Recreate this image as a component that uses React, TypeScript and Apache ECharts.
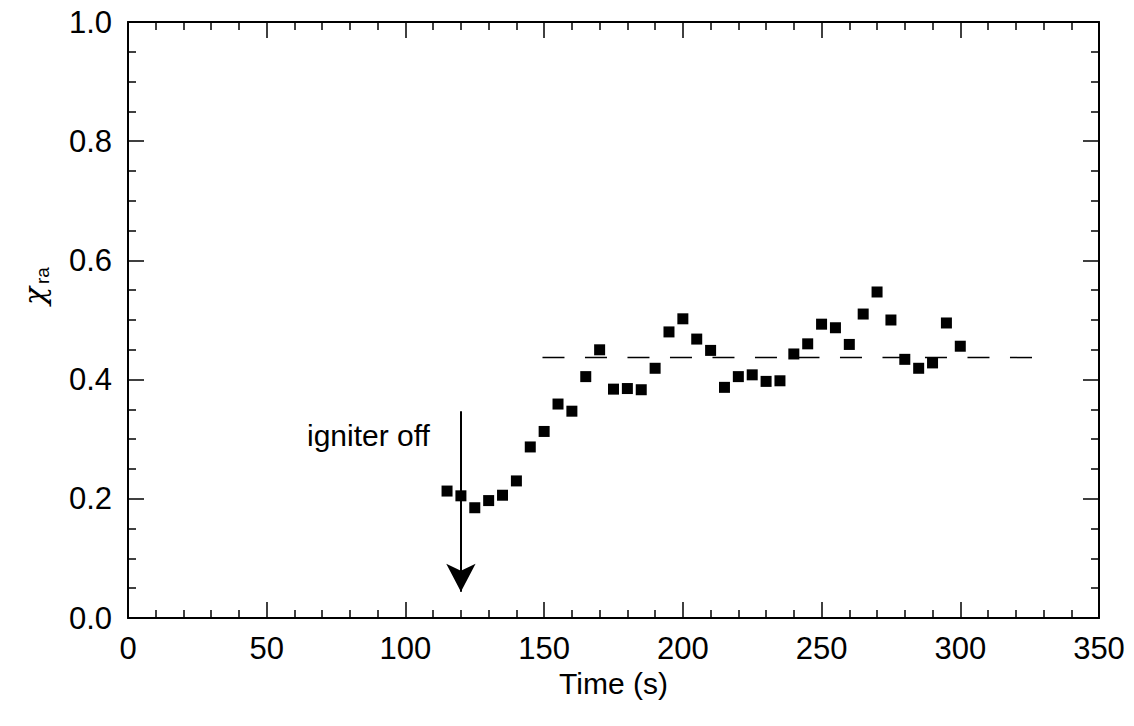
import React, { useEffect, useRef } from "react";
import * as echarts from "echarts";

const times = [115, 120, 125, 130, 135, 140, 145, 150, 155, 160, 165, 170, 175, 180, 185, 190, 195, 200, 205, 210, 215, 220, 225, 230, 235, 240, 245, 250, 255, 260, 265, 270, 275, 280, 285, 290, 295, 300];
const chiRa = [0.213, 0.205, 0.185, 0.197, 0.206, 0.23, 0.287, 0.313, 0.359, 0.347, 0.405, 0.45, 0.384, 0.385, 0.383, 0.419, 0.48, 0.502, 0.468, 0.449, 0.387, 0.405, 0.408, 0.397, 0.398, 0.443, 0.46, 0.493, 0.487, 0.459, 0.51, 0.547, 0.5, 0.434, 0.419, 0.428, 0.495, 0.456];

const meanLineTimes = [149.4, 326.4];
const meanLineValue = [0.437, 0.437];

const arrowTime = 120;
const arrowFrom = 0.347;
const arrowTo = 0.044;

const xTicks = { min: 0, max: 350, interval: 50 };
const yTicks = { min: 0, max: 1, interval: 0.2 };

const FONT = "'Liberation Sans', Arial, Helvetica, sans-serif";

export default function App() {
  const ref = useRef<HTMLDivElement>(null);
  useEffect(() => {
    if (!ref.current) return;
    const chart = echarts.init(ref.current, null, { renderer: "svg" });
    const axisCommon = {
      axisLine: { show: true, onZero: false, lineStyle: { color: "#000", width: 2 } },
      axisTick: { show: true, inside: true, length: 16, lineStyle: { color: "#000", width: 1.5 } },
      minorTick: { show: true, length: 8, lineStyle: { color: "#000", width: 1.5 } },
      splitLine: { show: false },
    };
    chart.setOption({
      animation: false,
      backgroundColor: "#fff",
      textStyle: { fontFamily: FONT },
      grid: { left: 128, right: 35, top: 22, bottom: 108, containLabel: false },
      xAxis: [
        {
          type: "value",
          position: "bottom",
          ...xTicks,
          ...axisCommon,
          minorTick: { ...axisCommon.minorTick, splitNumber: 5 },
          axisLabel: { color: "#000", fontSize: 31, fontFamily: FONT, margin: 15 },
          name: "Time (s)",
          nameLocation: "middle",
          nameGap: 47,
          nameTextStyle: { color: "#000", fontSize: 30, fontFamily: FONT },
        },
        {
          type: "value",
          position: "top",
          ...xTicks,
          ...axisCommon,
          minorTick: { ...axisCommon.minorTick, splitNumber: 5 },
          axisLabel: { show: false },
        },
      ],
      yAxis: [
        {
          type: "value",
          position: "left",
          ...yTicks,
          ...axisCommon,
          minorTick: { ...axisCommon.minorTick, splitNumber: 4 },
          axisLabel: {
            color: "#000",
            fontSize: 31,
            fontFamily: FONT,
            margin: 16,
            formatter: (v: number) => v.toFixed(1),
          },
        },
        {
          type: "value",
          position: "right",
          ...yTicks,
          ...axisCommon,
          minorTick: { ...axisCommon.minorTick, splitNumber: 4 },
          axisLabel: { show: false },
        },
      ],
      graphic: [
        {
          type: "group",
          x: 34,
          y: 282,
          rotation: Math.PI / 2,
          children: [
            {
              type: "text",
              x: -14,
              y: 0,
              style: { text: "χ", fontSize: 30, fontFamily: "'DejaVu Serif', serif", fontStyle: "italic", fill: "#000", textAlign: "center", textVerticalAlign: "middle" },
            },
            {
              type: "text",
              x: -2,
              y: 8,
              style: { text: "ra", fontSize: 19, fontFamily: FONT, fill: "#000", textAlign: "left", textVerticalAlign: "middle" },
            },
          ],
        },
        {
          type: "text",
          x: 307,
          y: 435,
          style: { text: "igniter off", fontSize: 30, fontFamily: FONT, fill: "#000", textAlign: "left", textVerticalAlign: "middle" },
        },
      ],
      series: [
        {
          type: "line",
          data: meanLineTimes.map((t, i) => [t, meanLineValue[i]]),
          symbol: "none",
          lineStyle: { color: "#000", width: 1.5, type: [22, 20.5] },
          silent: true,
          z: 1,
        },
        {
          type: "scatter",
          data: times.map((t, i) => [t, chiRa[i]]),
          symbol: "rect",
          symbolSize: 11,
          itemStyle: { color: "#000", opacity: 1 },
          z: 3,
          markLine: {
            silent: true,
            label: { show: false },
            lineStyle: { color: "#000", width: 2, type: "solid" },
            symbolSize: [22, 28],
            data: [
              [
                { coord: [arrowTime, arrowFrom], symbol: "none" },
                { coord: [arrowTime, arrowTo], symbol: "arrow" },
              ],
            ],
          },
        },
      ],
    });
    return () => chart.dispose();
  }, []);
  return (
    <div
      ref={ref}
      style={{ position: "fixed", left: 0, top: 0, width: 1134, height: 726, background: "#fff" }}
    />
  );
}
